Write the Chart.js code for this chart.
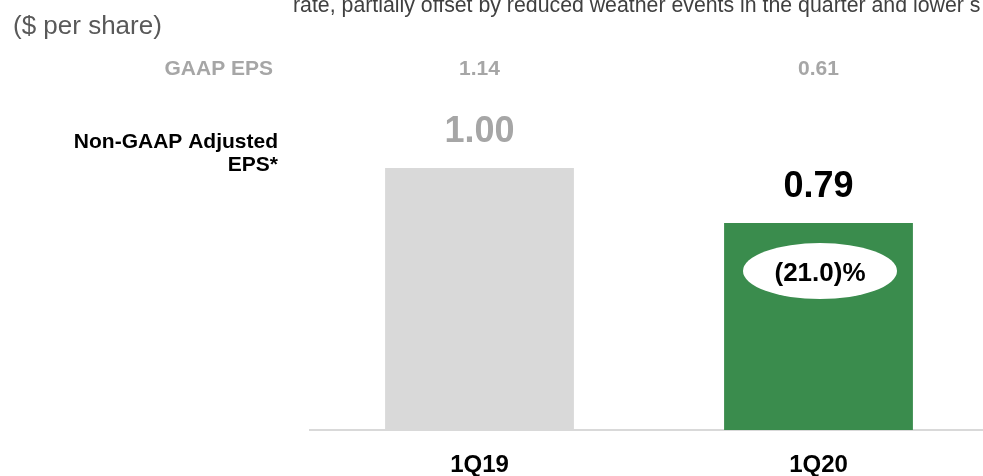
<!DOCTYPE html>
<html>
<head>
<meta charset="utf-8">
<script src="https://cdn.jsdelivr.net/npm/chart.js@4"></script>
<style>
  html, body { margin: 0; padding: 0; background: #ffffff; overflow: hidden; }
  #wrap { position: relative; width: 983px; height: 476px; overflow: hidden; }
  canvas { display: block; }
</style>
</head>
<body>
<div id="wrap"><canvas id="eps" width="1000" height="476"></canvas></div>
<script>
// Quarterly EPS comparison
const quarters = ['1Q19', '1Q20'];
const adjustedEps = [1.00, 0.79];
const gaapEps = [1.14, 0.61];
const barColors = ['#d9d9d9', '#3a8c4d'];
const valueColors = ['#a6a6a6', '#000000'];

const FONT = '"Liberation Sans", Arial, Helvetica, sans-serif';

function fmtChange(v) {
  const s = Math.abs(v).toFixed(1);
  return v < 0 ? '(' + s + ')%' : s + '%';
}

const annotations = {
  id: 'annotations',
  afterDraw(chart) {
    const ctx = chart.ctx;
    const meta = chart.getDatasetMeta(0);
    ctx.save();

    // running text clipped at the top edge
    ctx.fillStyle = '#404040';
    ctx.font = '21.3px ' + FONT;
    ctx.textAlign = 'left';
    ctx.textBaseline = 'alphabetic';
    ctx.fillText('rate, partially offset by reduced weather events in the quarter and lower s', 293, 12);

    // unit caption
    ctx.fillStyle = '#595959';
    ctx.font = '26px ' + FONT;
    ctx.fillText('($ per share)', 13, 34);

    // row headers
    ctx.textAlign = 'right';
    ctx.fillStyle = '#a6a6a6';
    ctx.font = 'bold 21px ' + FONT;
    ctx.fillText('GAAP EPS', 273, 75);
    ctx.fillStyle = '#000000';
    ctx.font = 'bold 21px ' + FONT;
    ctx.fillText('Non-GAAP Adjusted', 278, 148);
    ctx.fillText('EPS*', 278, 171);

    // GAAP values above each column
    ctx.textAlign = 'center';
    ctx.fillStyle = '#a6a6a6';
    ctx.font = 'bold 21px ' + FONT;
    meta.data.forEach((bar, i) => {
      ctx.fillText(gaapEps[i].toFixed(2), bar.x, 75);
    });

    // adjusted EPS value labels
    ctx.font = 'bold 36px ' + FONT;
    meta.data.forEach((bar, i) => {
      ctx.fillStyle = valueColors[i];
      ctx.fillText(adjustedEps[i].toFixed(2), bar.x, bar.y - 26);
    });

    // year-over-year change bubble on the latest bar
    const last = meta.data[meta.data.length - 1];
    const change = (adjustedEps[1] / adjustedEps[0] - 1) * 100;
    const cx = last.x + 1.5, cy = last.y + 48;
    ctx.fillStyle = '#ffffff';
    ctx.beginPath();
    ctx.ellipse(cx, cy, 77, 28, 0, 0, Math.PI * 2);
    ctx.fill();
    ctx.fillStyle = '#000000';
    ctx.font = 'bold 26px ' + FONT;
    ctx.textBaseline = 'alphabetic';
    ctx.fillText(fmtChange(change), cx, cy + 10);

    ctx.restore();
  }
};

new Chart(document.getElementById('eps'), {
  type: 'bar',
  data: {
    labels: quarters,
    datasets: [{
      data: adjustedEps,
      backgroundColor: barColors,
      borderWidth: 0,
      barPercentage: 0.557,
      categoryPercentage: 1.0
    }]
  },
  options: {
    responsive: false,
    animation: false,
    events: [],
    layout: { padding: { left: 310, right: 12, top: 37, bottom: 0 } },
    plugins: { legend: { display: false }, tooltip: { enabled: false } },
    scales: {
      x: {
        grid: { display: false, drawTicks: false },
        border: { display: true, color: '#d9d9d9', width: 2 },
        ticks: {
          color: '#000000',
          font: { family: FONT, size: 24, weight: 'bold' },
          padding: 21
        },
        afterFit(scale) { scale.height = 46; }
      },
      y: {
        display: false,
        min: 0,
        max: 1.5
      }
    }
  },
  plugins: [annotations]
});
</script>
</body>
</html>
